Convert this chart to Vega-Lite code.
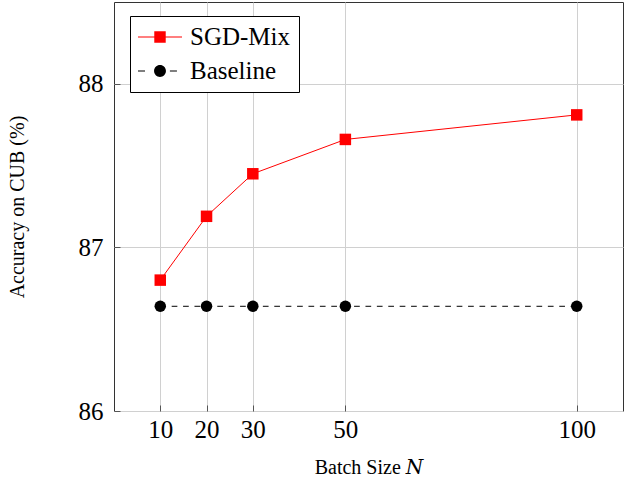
{
  "$schema": "https://vega.github.io/schema/vega-lite/v6.json",
  "width": 509,
  "height": 409,
  "autosize": {"type": "none"},
  "padding": {"left": 114, "top": 2, "right": 2, "bottom": 66},
  "background": "white",
  "config": {
    "font": "Liberation Serif",
    "view": {"stroke": "#333333", "strokeWidth": 1},
    "axis": {
      "labelFont": "Liberation Serif",
      "titleFont": "Liberation Serif, DejaVu Serif, serif",
      "labelFontSize": 25,
      "titleFontSize": 20,
      "titleFontWeight": "normal",
      "labelColor": "#000000",
      "titleColor": "#000000",
      "gridColor": "#d0d0d0",
      "gridWidth": 1,
      "gridOpacity": 1,
      "domain": false,
      "tickColor": "#555555",
      "tickSize": -6,
      "tickWidth": 1
    }
  },
  "data": {
    "values": [
      {"series": "SGD-Mix", "x": 10, "y": 86.80},
      {"series": "SGD-Mix", "x": 20, "y": 87.19},
      {"series": "SGD-Mix", "x": 30, "y": 87.45},
      {"series": "SGD-Mix", "x": 50, "y": 87.66},
      {"series": "SGD-Mix", "x": 100, "y": 87.81},
      {"series": "Baseline", "x": 10, "y": 86.64},
      {"series": "Baseline", "x": 20, "y": 86.64},
      {"series": "Baseline", "x": 30, "y": 86.64},
      {"series": "Baseline", "x": 50, "y": 86.64},
      {"series": "Baseline", "x": 100, "y": 86.64}
    ]
  },
  "encoding": {
    "x": {
      "field": "x",
      "type": "quantitative",
      "scale": {"domain": [0, 110], "nice": false, "zero": false},
      "axis": {
        "values": [10, 20, 30, 50, 100],
        "title": "Batch Size 𝑁",
        "grid": true,
        "labelPadding": 12,
        "titlePadding": 15,
        "labelFlush": false
      }
    },
    "y": {
      "field": "y",
      "type": "quantitative",
      "scale": {"domain": [86, 88.5], "nice": false, "zero": false},
      "axis": {
        "values": [86, 87, 88],
        "title": "Accuracy on CUB (%)",
        "grid": true,
        "labelPadding": 17,
        "titlePadding": 51
      }
    }
  },
  "layer": [
    {
      "transform": [{"filter": "datum.series == 'Baseline'"}],
      "mark": {"type": "line", "color": "#000000", "strokeWidth": 1, "strokeDash": [5.7, 5.7]}
    },
    {
      "transform": [{"filter": "datum.series == 'Baseline'"}],
      "mark": {"type": "point", "shape": "circle", "filled": true, "color": "#000000", "size": 132, "strokeWidth": 0, "opacity": 1}
    },
    {
      "transform": [{"filter": "datum.series == 'SGD-Mix'"}],
      "mark": {"type": "line", "color": "#ff0000", "strokeWidth": 1}
    },
    {
      "transform": [{"filter": "datum.series == 'SGD-Mix'"}],
      "mark": {"type": "point", "shape": "square", "filled": true, "color": "#ff0000", "size": 132, "strokeWidth": 0, "opacity": 1}
    },
    {
      "transform": [{"filter": "datum.x < 0"}],
      "mark": {"type": "point", "filled": true, "opacity": 1, "strokeWidth": 0},
      "encoding": {
        "color": {
          "field": "series",
          "type": "nominal",
          "scale": {"domain": ["SGD-Mix", "Baseline"], "range": ["#ff0000", "#000000"]},
          "legend": {
            "orient": "none", "legendX": 16, "legendY": 14, "title": null,
            "labelFont": "Liberation Serif", "labelFontSize": 25, "labelColor": "#000000",
            "symbolSize": 1936, "clipHeight": 26, "rowPadding": 8, "padding": 8,
            "symbolOffset": 0, "labelOffset": 8, "strokeColor": "#000000", "fillColor": "#ffffff",
            "symbolStrokeWidth": 0, "cornerRadius": 0
          }
        },
        "shape": {
          "field": "series",
          "type": "nominal",
          "scale": {
            "domain": ["SGD-Mix", "Baseline"],
            "range": [
              "M-1,-0.025H1V0.025H-1Z M-0.26,-0.26H0.26V0.26H-0.26Z",
              "M-1,-0.025H-0.68V0.025H-1Z M0.45,-0.025H0.77V0.025H0.45Z M-0.27,0A0.27,0.27 0 1,1 0.27,0A0.27,0.27 0 1,1 -0.27,0Z"
            ]
          },
          "legend": {
            "orient": "none", "legendX": 16, "legendY": 14, "title": null,
            "labelFont": "Liberation Serif", "labelFontSize": 25, "labelColor": "#000000",
            "symbolSize": 1936, "clipHeight": 26, "rowPadding": 8, "padding": 8,
            "symbolOffset": 0, "labelOffset": 8, "strokeColor": "#000000", "fillColor": "#ffffff",
            "symbolStrokeWidth": 0, "cornerRadius": 0
          }
        }
      }
    }
  ]
}
